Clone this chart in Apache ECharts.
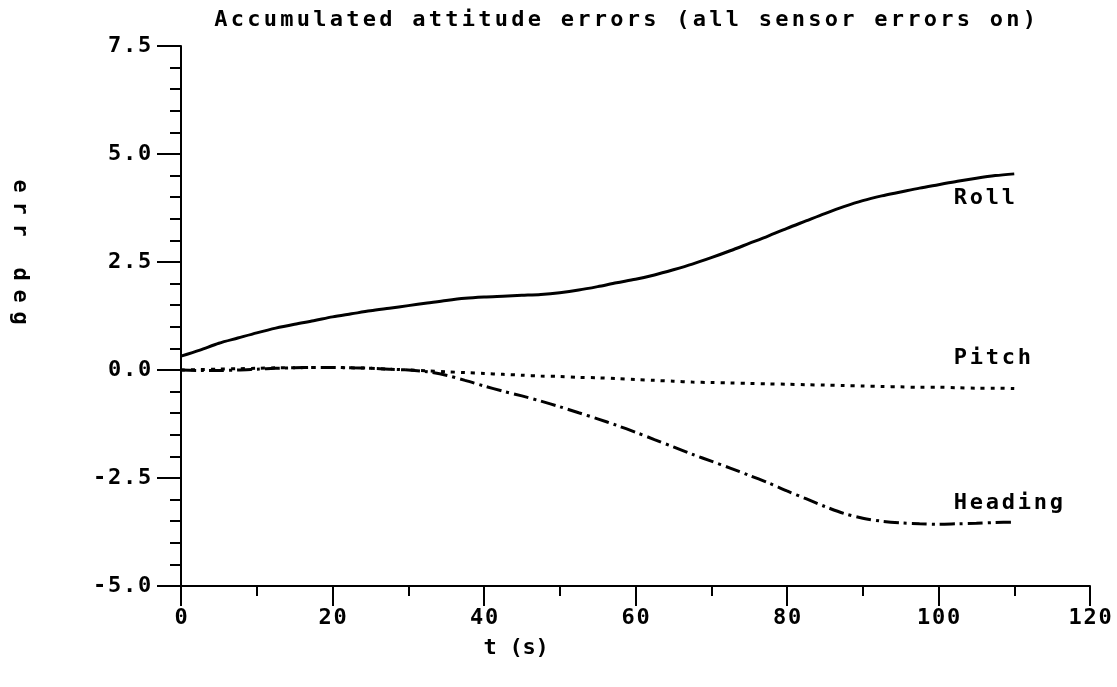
<!DOCTYPE html>
<html>
<head>
<meta charset="utf-8">
<title>Accumulated attitude errors</title>
<script src="https://cdn.jsdelivr.net/npm/echarts@6/dist/echarts.min.js"></script>
<style>
  html, body { margin: 0; padding: 0; background: #fff; }
  #chart { width: 1117px; height: 687px; }
</style>
</head>
<body>
<div id="chart"></div>
<script>
// Time samples (s)
const times = [0, 2.5, 5, 7.5, 10, 12.5, 15, 17.5, 20, 22.5, 25, 27.5, 30, 32.5, 35, 37.5,
  40, 42.5, 45, 47.5, 50, 52.5, 55, 57.5, 60, 62.5, 65, 67.5, 70, 72.5, 75, 77.5,
  80, 82.5, 85, 87.5, 90, 92.5, 95, 97.5, 100, 102.5, 105, 107.5, 110];

// Attitude errors (deg)
const roll = [0.32, 0.46, 0.62, 0.74, 0.86, 0.97, 1.06, 1.14, 1.23, 1.30, 1.37, 1.43, 1.49, 1.55, 1.61, 1.66,
  1.69, 1.71, 1.73, 1.75, 1.79, 1.85, 1.93, 2.02, 2.10, 2.20, 2.32, 2.45, 2.60, 2.76, 2.93, 3.10,
  3.28, 3.45, 3.62, 3.78, 3.92, 4.03, 4.12, 4.21, 4.29, 4.37, 4.44, 4.50, 4.54];
const pitch = [0.00, 0.01, 0.02, 0.03, 0.04, 0.05, 0.05, 0.06, 0.06, 0.05, 0.04, 0.02, 0.00, -0.02, -0.04, -0.06,
  -0.08, -0.10, -0.12, -0.14, -0.15, -0.17, -0.18, -0.20, -0.22, -0.24, -0.26, -0.28, -0.29, -0.30, -0.31, -0.32,
  -0.33, -0.34, -0.35, -0.36, -0.37, -0.38, -0.39, -0.40, -0.40, -0.41, -0.42, -0.42, -0.43];
const heading = [0.00, -0.01, -0.01, 0.00, 0.02, 0.04, 0.05, 0.06, 0.06, 0.05, 0.04, 0.02, 0.00, -0.04, -0.12, -0.24,
  -0.37, -0.49, -0.60, -0.72, -0.85, -0.99, -1.13, -1.28, -1.44, -1.61, -1.78, -1.95, -2.11, -2.27, -2.44, -2.61,
  -2.80, -2.98, -3.16, -3.32, -3.43, -3.50, -3.54, -3.56, -3.57, -3.56, -3.55, -3.53, -3.52];

const seriesNames = ['Roll', 'Pitch', 'Heading'];
const titleText = 'Accumulated attitude errors (all sensor errors on)';
const xName = 't (s)';
const yName = 'err deg';

const FONT = '"DejaVu Sans Mono", "Liberation Mono", monospace';
const INK = '#000';
const FS = 22;

// Plotter-style text: every character sits in its own fixed-width cell
function cells(text, key) {
  return String(text).split('').map(function (c) { return '{' + key + '|' + c + '}'; }).join('');
}
function cellStyle(w) {
  return { width: w, align: 'center', fontFamily: FONT, fontSize: FS, fontWeight: 'bold', color: INK, lineHeight: 22 };
}
function zrCellStyle(w) {
  return { width: w, align: 'center', fontFamily: FONT, fontSize: FS, fontWeight: 'bold', fill: INK, lineHeight: 22 };
}

function pairs(vals) { return times.map(function (t, i) { return [t, vals[i]]; }); }
const last = times.length - 1;

function endMark(name, vals, dy) {
  return {
    silent: true,
    symbol: 'circle',
    symbolSize: 0,
    itemStyle: { color: 'rgba(0,0,0,0)' },
    label: {
      show: true,
      position: 'inside',
      align: 'left',
      verticalAlign: 'middle',
      offset: [-62, dy],
      formatter: function () { return cells(name, 'c'); },
      rich: { c: cellStyle(16) }
    },
    data: [{ coord: [times[last], vals[last]] }]
  };
}

const chart = echarts.init(document.getElementById('chart'), null, { renderer: 'canvas' });
chart.setOption({
  animation: false,
  backgroundColor: '#fff',
  grid: { left: 181, right: 27, top: 46, bottom: 101, containLabel: false },
  xAxis: {
    type: 'value',
    min: 0, max: 120, interval: 20,
    axisLine: { show: true, onZero: false, lineStyle: { color: INK, width: 2 } },
    axisTick: { show: true, inside: false, length: 20, lineStyle: { color: INK, width: 2 } },
    minorTick: { show: true, splitNumber: 2, length: 10, lineStyle: { color: INK, width: 2 } },
    splitLine: { show: false },
    axisLabel: {
      margin: 21,
      formatter: function (v) { return cells(String(v), 'c'); },
      rich: { c: cellStyle(15) }
    }
  },
  yAxis: {
    type: 'value',
    min: -5, max: 7.5, interval: 2.5,
    axisLine: { show: true, onZero: false, lineStyle: { color: INK, width: 2 } },
    axisTick: { show: true, inside: false, length: 24, lineStyle: { color: INK, width: 2 } },
    minorTick: { show: true, splitNumber: 5, length: 11, lineStyle: { color: INK, width: 2 } },
    splitLine: { show: false },
    axisLabel: {
      margin: 29,
      formatter: function (v) { return cells(v.toFixed(1), 'c'); },
      rich: { c: cellStyle(15) }
    }
  },
  graphic: [
    {
      type: 'text', x: 625, y: 20, silent: true,
      style: { text: cells(titleText, 't'), rich: { t: zrCellStyle(16.5) }, align: 'center', verticalAlign: 'middle' }
    },
    {
      type: 'text', x: 516, y: 648, silent: true,
      style: { text: cells(xName, 't'), rich: { t: zrCellStyle(13) }, align: 'center', verticalAlign: 'middle' }
    },
    {
      type: 'text', x: 20, y: 252, rotation: -Math.PI / 2, silent: true,
      style: { text: cells(yName, 't'), rich: { t: zrCellStyle(22) }, align: 'center', verticalAlign: 'middle' }
    }
  ],
  series: [
    {
      name: seriesNames[0], type: 'line', data: pairs(roll), showSymbol: false, smooth: 0.3,
      lineStyle: { color: INK, width: 3, type: 'solid' },
      markPoint: endMark(seriesNames[0], roll, 24)
    },
    {
      name: seriesNames[1], type: 'line', data: pairs(pitch), showSymbol: false, smooth: 0.3,
      lineStyle: { color: INK, width: 3, type: [4, 6] },
      markPoint: endMark(seriesNames[1], pitch, -30)
    },
    {
      name: seriesNames[2], type: 'line', data: pairs(heading), showSymbol: false, smooth: 0.3,
      lineStyle: { color: INK, width: 3, type: [15, 5, 3, 5] },
      markPoint: endMark(seriesNames[2], heading, -19)
    }
  ]
});
</script>
</body>
</html>
